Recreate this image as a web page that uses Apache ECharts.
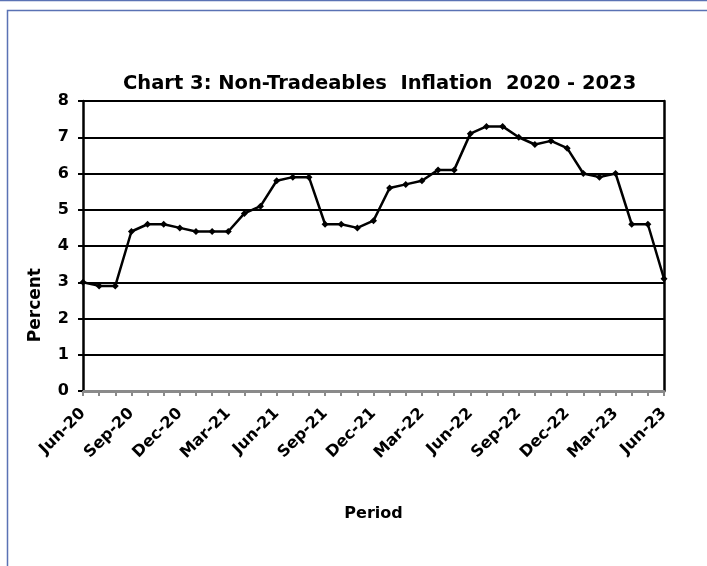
<!DOCTYPE html>
<html>
<head>
<meta charset="utf-8">
<script src="https://cdn.jsdelivr.net/npm/echarts@6/dist/echarts.min.js"></script>
<style>
  html, body { margin: 0; padding: 0; background: #fff; }
  #chart { width: 707px; height: 566px; }
</style>
</head>
<body>
<div id="chart"></div>
<script>
// monthly periods Jun-20 .. Jun-23
const periods = [
  "Jun-20", "Jul-20", "Aug-20", "Sep-20", "Oct-20", "Nov-20", "Dec-20",
  "Jan-21", "Feb-21", "Mar-21", "Apr-21", "May-21", "Jun-21", "Jul-21",
  "Aug-21", "Sep-21", "Oct-21", "Nov-21", "Dec-21", "Jan-22", "Feb-22",
  "Mar-22", "Apr-22", "May-22", "Jun-22", "Jul-22", "Aug-22", "Sep-22",
  "Oct-22", "Nov-22", "Dec-22", "Jan-23", "Feb-23", "Mar-23", "Apr-23",
  "May-23", "Jun-23"
];
const inflation = [
  3.0, 2.9, 2.9, 4.4, 4.6, 4.6, 4.5,
  4.4, 4.4, 4.4, 4.9, 5.1, 5.8, 5.9,
  5.9, 4.6, 4.6, 4.5, 4.7, 5.6, 5.7,
  5.8, 6.1, 6.1, 7.1, 7.3, 7.3, 7.0,
  6.8, 6.9, 6.7, 6.0, 5.9, 6.0, 4.6,
  4.6, 3.1
];
const yTicks = { min: 0, max: 8, step: 1 };

const font = "DejaVu Sans";
const chart = echarts.init(document.getElementById("chart"));

chart.setOption({
  animation: false,
  backgroundColor: "#fff",
  title: {
    text: "Chart 3: Non-Tradeables  Inflation  2020 - 2023",
    left: 118,
    top: 69,
    textStyle: {
      fontFamily: font,
      fontWeight: "bold",
      fontSize: 19.5,
      color: "#000"
    }
  },
  graphic: [
    {
      type: "line",
      shape: { x1: 0, y1: 0.5, x2: 707, y2: 0.5 },
      style: { stroke: "#5a72b4", lineWidth: 1.5 }
    },
    {
      type: "polyline",
      shape: { points: [[7.5, 566], [7.5, 10.5], [707, 10.5]] },
      style: { stroke: "#5a72b4", lineWidth: 1.5, fill: null }
    },
    {
      type: "text",
      left: 27,
      top: 268,
      rotation: Math.PI / 2,
      style: {
        text: "Percent",
        fontFamily: font,
        fontWeight: "bold",
        fontSize: 17,
        fill: "#000"
      }
    }
  ],
  grid: {
    left: 83,
    right: 43,
    top: 101,
    bottom: 175
  },
  xAxis: {
    type: "category",
    data: periods,
    boundaryGap: false,
    name: "Period",
    nameLocation: "middle",
    nameGap: 115,
    nameTextStyle: {
      fontFamily: font,
      fontWeight: "bold",
      fontSize: 16,
      color: "#000"
    },
    axisLine: { lineStyle: { color: "#8a8a8a", width: 3 } },
    axisTick: {
      show: true,
      interval: 0,
      length: 5,
      lineStyle: { color: "#8a8a8a", width: 2 }
    },
    axisLabel: {
      interval: 2,
      rotate: 45,
      margin: 20,
      fontFamily: font,
      fontWeight: "bold",
      fontSize: 16,
      color: "#000"
    },
    splitLine: { show: false }
  },
  yAxis: [
    {
      type: "value",
      min: yTicks.min,
      max: yTicks.max,
      interval: yTicks.step,
      axisLine: { show: true, lineStyle: { color: "#000", width: 2.5 } },
      axisTick: { show: true, length: 5, lineStyle: { color: "#000", width: 2 } },
      axisLabel: {
        margin: 14,
        fontFamily: font,
        fontWeight: "bold",
        fontSize: 16,
        color: "#000"
      },
      splitLine: { show: true, lineStyle: { color: "#000", width: 2 } }
    },
    {
      type: "value",
      position: "right",
      min: yTicks.min,
      max: yTicks.max,
      interval: yTicks.step,
      axisLine: { show: true, lineStyle: { color: "#000", width: 2.5 } },
      axisTick: { show: false },
      axisLabel: { show: false },
      splitLine: { show: false }
    }
  ],
  series: [
    {
      name: "Non-Tradeables Inflation",
      type: "line",
      data: inflation,
      symbol: "diamond",
      symbolSize: 7,
      itemStyle: { color: "#000" },
      lineStyle: { color: "#000", width: 2.5 }
    }
  ]
});
</script>
</body>
</html>
